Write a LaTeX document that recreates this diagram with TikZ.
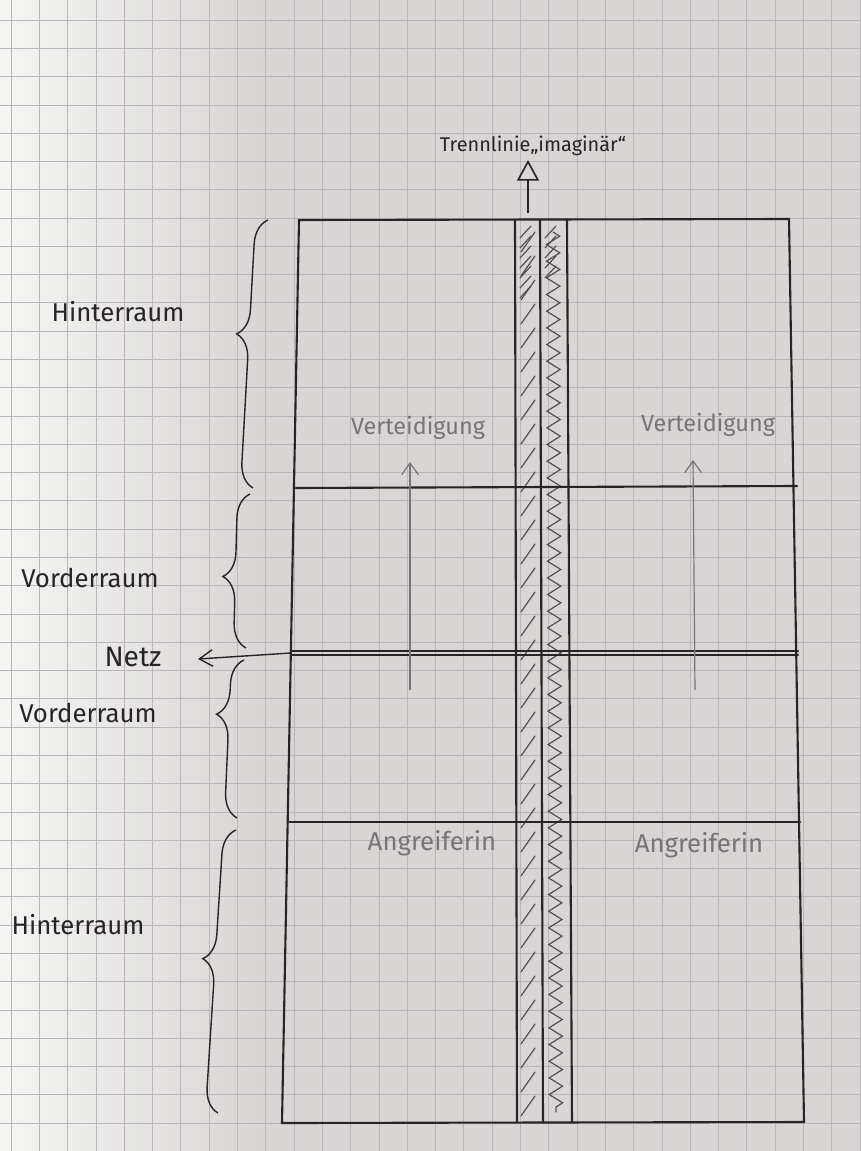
\documentclass[tikz,border=0pt]{standalone}
\usepackage{fontspec}
\setmainfont{Fira Sans}
\usetikzlibrary{decorations.pathreplacing,decorations.pathmorphing,arrows.meta}
\definecolor{paperR}{RGB}{216,214,213}
\definecolor{paperL}{RGB}{245,245,244}
\definecolor{gridc}{RGB}{184,182,182}
\definecolor{ink}{RGB}{38,36,36}
\definecolor{pencil}{RGB}{80,78,78}
\definecolor{softink}{RGB}{118,116,116}
\begin{document}
\begin{tikzpicture}[x={(0.03cm,0)},y={(0,-0.03cm)},
  gridline/.style={draw=gridc,line width=0.6pt},
  court/.style={draw=ink,line width=1.8pt,line cap=round},
  hatchline/.style={draw=pencil,line width=1pt,line cap=round},
  bracestyle/.style={draw=ink,line width=1.2pt,decorate,decoration={brace,amplitude=0.75cm,aspect=#1}},
  sidelabel/.style={text=ink,font=\fontsize{22}{26}\selectfont,inner sep=0pt},
  zonelabel/.style={text=softink,font=\fontsize{20}{24}\selectfont,inner sep=0pt},
  dirarrow/.style={draw=softink,line width=1pt,-{Straight Barb[length=0.35cm,width=0.5cm]}},
]
\useasboundingbox (0,0) rectangle (860,1151);
% paper
\fill[paperR] (0,0) rectangle (860,1151);
\shade[left color=paperL,right color=paperR] (0,0) rectangle (260,1151);
% grid
\foreach \k in {0,...,30} \draw[gridline] ({11+28.3*\k},0) -- ({11+28.3*\k},1151);
\foreach \k in {-7,...,33} \draw[gridline] (0,{218+28.28*\k}) -- (860,{218+28.28*\k});

% court coordinates
\coordinate (TL) at (299,220);
\coordinate (TR) at (789,219);
\coordinate (BR) at (804,1122);
\coordinate (BL) at (282,1123);
\coordinate (h1L) at (296,488); \coordinate (h1R) at (797,486);
\coordinate (n1L) at (291,651); \coordinate (n1R) at (798,651);
\coordinate (n2L) at (291,655); \coordinate (n2R) at (798,655);
\coordinate (h3L) at (289,822); \coordinate (h3R) at (800,822);
\coordinate (s1T) at (515,220); \coordinate (s1B) at (517,1122);
\coordinate (s2T) at (540,220); \coordinate (s2B) at (543,1122);
\coordinate (s3T) at (567,220); \coordinate (s3B) at (572,1122);

% hatching left strip
\foreach \y in {232,256,...,1100} \draw[hatchline] (521,{\y+20}) -- (535,\y);
\foreach \y in {226,236,...,290} \draw[hatchline] (520,{\y+12}) -- (531,\y);
% zigzag right strip
\draw[hatchline,decorate,decoration={zigzag,segment length=0.5cm,amplitude=0.2cm}] (553,232) -- (556,1112);
\foreach \y in {226,236,...,270} \draw[hatchline] (545,{\y+12}) -- (556,\y);

% court
\draw[court] (TL) -- (TR) -- (BR) -- (BL) -- cycle;
\draw[court] (h1L) -- (h1R);
\draw[court] (n1L) -- (n1R);
\draw[court] (n2L) -- (n2R);
\draw[court] (h3L) -- (h3R);
\draw[court] (s1T) -- (s1B);
\draw[court] (s2T) -- (s2B);
\draw[court] (s3T) -- (s3B);

% top arrow + title
\node[text=ink,font=\fontsize{17}{20}\selectfont,inner sep=0pt] (title) at (533,146) {Trennlinie„imaginär“};
\coordinate (arrS) at (528,213);
\coordinate (arrE) at (528,160);
\draw[draw=ink,line width=1.4pt,-{Triangle[open,length=0.62cm,width=0.66cm,line width=1.4pt]}] (arrS) -- (arrE);

% braces
\coordinate (b1s) at (253,488); \coordinate (b1e) at (268,220);
\coordinate (b2s) at (246,648); \coordinate (b2e) at (250,494);
\coordinate (b3s) at (237,818); \coordinate (b3e) at (244,660);
\coordinate (b4s) at (218,1113); \coordinate (b4e) at (236,830);
\draw[bracestyle=0.57] (b1s) -- (b1e);
\draw[bracestyle=0.46] (b2s) -- (b2e);
\draw[bracestyle=0.65] (b3s) -- (b3e);
\draw[bracestyle=0.54] (b4s) -- (b4e);

% side labels
\node[sidelabel] (hr1) at (118,312) {Hinterraum};
\node[sidelabel,font=\fontsize{24}{28}\selectfont] (netz) at (133,657) {Netz};
\node[sidelabel] (vr1) at (90,578) {Vorderraum};
\node[sidelabel] (vr2) at (88,713) {Vorderraum};
\node[sidelabel] (hr2) at (78,925) {Hinterraum};

% net arrow
\coordinate (netS) at (291,653);
\coordinate (netE) at (198,659);
\draw[draw=ink,line width=1.2pt,-{Straight Barb[length=0.4cm,width=0.5cm]}] (netS) -- (netE);

% zone labels
\node[zonelabel] (vl) at (418,428) {Verteidigung};
\node[zonelabel] (vrt) at (708,425) {Verteidigung};
\node[zonelabel,font=\fontsize{22}{26}\selectfont] (al) at (432,843) {Angreiferin};
\node[zonelabel,font=\fontsize{22}{26}\selectfont] (ar) at (699,845) {Angreiferin};

% direction arrows
\coordinate (da1S) at (410,690); \coordinate (da1E) at (410,462);
\coordinate (da2S) at (695,690); \coordinate (da2E) at (693,460);
\draw[dirarrow] (da1S) -- (da1E);
\draw[dirarrow] (da2S) -- (da2E);
\end{tikzpicture}
\end{document}
